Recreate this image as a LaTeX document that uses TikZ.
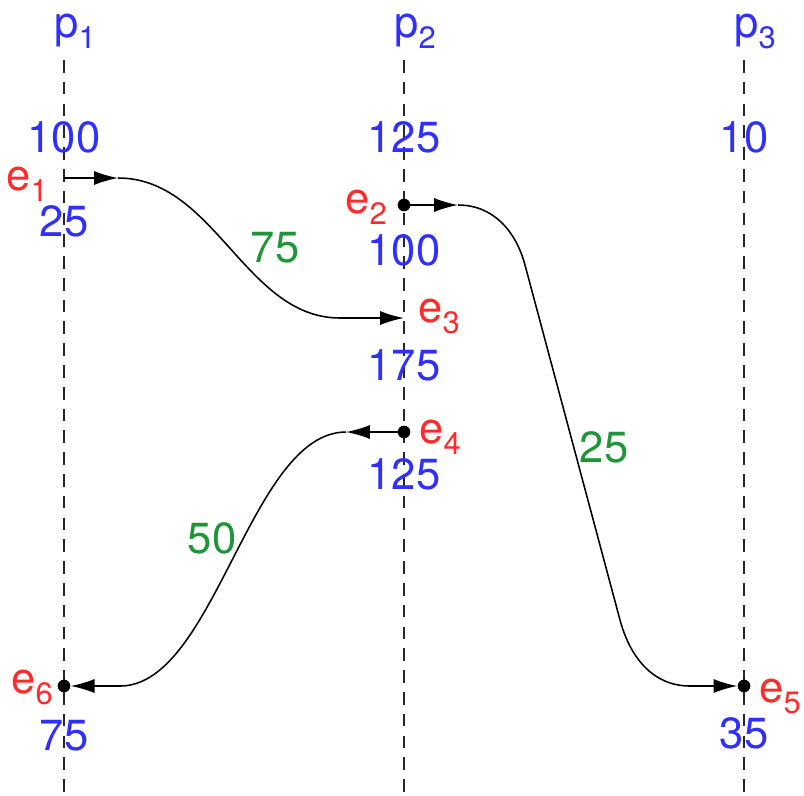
\documentclass[tikz,border=0pt]{standalone}
\usepackage{fontspec}
\setmainfont{TeX Gyre Heros}
\usetikzlibrary{arrows.meta, positioning}
\definecolor{clockblue}{HTML}{2F2FFF}
\definecolor{eventred}{HTML}{FF2B2B}
\definecolor{weightgreen}{HTML}{1E9638}
\newcommand{\subsc}[2]{#1\raisebox{-8pt}{\fontsize{22}{24}\selectfont #2}}

\begin{document}
\begin{tikzpicture}[
  every node/.style={inner sep=0pt, font=\fontsize{31}{34}\selectfont},
  proc/.style={text=clockblue, anchor=base west},
  clock/.style={text=clockblue, anchor=base},
  evname/.style={text=eventred},
  weight/.style={text=weightgreen, anchor=base},
  timeline/.style={dash pattern=on 9pt off 6.5pt, line width=1pt, color=black!85},
  msg/.style={line width=1.1pt},
  tip/.style={-{Latex[length=17pt, width=10pt]}, line width=1.1pt},
  evdot/.style={circle, fill=black, minimum size=9pt, inner sep=0pt}
]
  \useasboundingbox (0,0) rectangle (20.1,-19.875);

  % processes and their time lines
  \foreach \x/\i in {1.6/1, 10.1/2, 18.6/3} {
    \node[proc] (p\i) at (\x-0.25,-0.925) {\subsc{p}{\i}};
    \draw[timeline] (\x,-1.5) -- (\x,-19.875);
  }

  % events
  \coordinate (e1) at (1.6,-4.45);
  \node[evdot] (e2) at (10.1,-5.125) {};
  \coordinate (e3) at (10.1,-7.95);
  \node[evdot] (e4) at (10.1,-10.8) {};
  \node[evdot] (e5) at (18.6,-17.15) {};
  \node[evdot] (e6) at (1.6,-17.15) {};

  \node[evname, anchor=base east] (l1) at (1.2,-4.75) {\subsc{e}{1}};
  \node[evname, anchor=base east] (l2) at (9.675,-5.325) {\subsc{e}{2}};
  \node[evname, anchor=base west] (l3) at (10.45,-8.05) {\subsc{e}{3}};
  \node[evname, anchor=base west] (l4) at (10.475,-11.075) {\subsc{e}{4}};
  \node[evname, anchor=base west] (l5) at (18.975,-17.55) {\subsc{e}{5}};
  \node[evname, anchor=base east] (l6) at (1.325,-17.325) {\subsc{e}{6}};

  % clock values
  \node[clock] (c1) at (1.6,-3.8) {100};
  \node[clock] (c2) at (10.1,-3.8) {125};
  \node[clock] (c3) at (18.6,-3.8) {10};
  \node[clock] (c4) at (1.6,-5.9) {25};
  \node[clock] (c5) at (10.1,-6.625) {100};
  \node[clock] (c6) at (10.1,-9.5) {175};
  \node[clock] (c7) at (10.1,-12.225) {125};
  \node[clock] (c8) at (18.6,-18.7) {35};
  \node[clock] (c9) at (1.6,-18.75) {75};

  % messages
  \coordinate (m1) at (2.95,-4.45);
  \coordinate (m2) at (11.45,-5.125);
  \coordinate (m4) at (8.65,-10.8);

  \draw[tip] (e1) -- (m1);
  \draw[msg, tip] (m1) .. controls (5.375,-4.45) and (6.125,-7.95) .. (8.5,-7.95) -- (e3);

  \draw[tip] (e2.center) -- (m2);
  \draw[msg, tip] (m2) to[out=0, in=105] (13.125,-6.625) -- (15.5,-15.5)
    to[out=-75, in=180] (17.25,-17.15) -- (e5);

  \draw[tip] (e4.center) -- (m4);
  \draw[msg, tip] (m4) .. controls (6.25,-10.8) and (5.375,-17.15) .. (3.0,-17.15) -- (e6);

  \node[weight] (w1) at (6.875,-6.55) {75};
  \node[weight] (w2) at (15.1,-11.55) {25};
  \node[weight] (w3) at (5.3,-13.825) {50};
\end{tikzpicture}
\end{document}
